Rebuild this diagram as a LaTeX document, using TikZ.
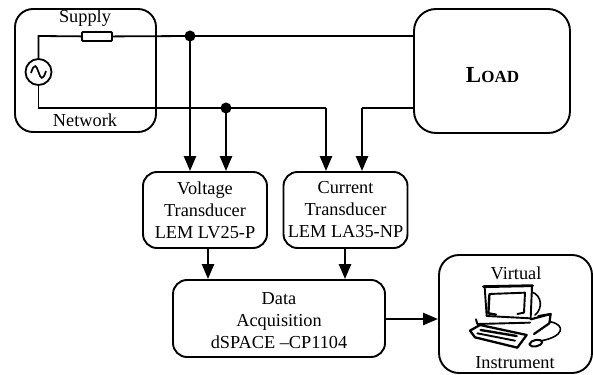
\documentclass[tikz,border=0pt]{standalone}
\usepackage{fontspec}
\setmainfont{Liberation Serif}
\usetikzlibrary{arrows.meta,positioning,calc}
\tikzset{
  roundbox/.style={draw=black, rounded corners=14pt, line width=1.9pt, align=center, inner sep=0pt,
    font=\fontsize{18.3}{22}\selectfont},
  lbltxt/.style={font=\fontsize{18.3}{22}\selectfont, inner sep=0pt, align=center},
  wire/.style={line width=1.8pt},
  feed/.style={-{Triangle[length=15pt,width=12pt]}, line width=2.5pt},
  joint/.style={circle, fill=black, inner sep=0pt, minimum size=11pt},
  iconline/.style={line width=1.6pt, line join=round, line cap=round},
}

\begin{document}
\begin{tikzpicture}[x=1pt, y=-1pt]
  \useasboundingbox (0,0) rectangle (593,374);

  \node[roundbox, minimum width=141pt, minimum height=123pt, rounded corners=18pt] (network) at (85.5,70.5) {};
  \node[roundbox, minimum width=156pt, minimum height=124pt, rounded corners=22pt] (load) at (492,71) {};

  \node[roundbox, minimum width=124pt, minimum height=76pt] (voltage) at (205,210) {Voltage\\Transducer\\LEM LV25-P};
  \node[roundbox, minimum width=124pt, minimum height=76pt] (current) at (345.5,210) {Current\\Transducer\\LEM LA35-NP};
  \node[roundbox, minimum width=212pt, minimum height=77pt] (daq) at (279,318.5) {};
  \node[roundbox, minimum width=153pt, minimum height=118pt, rounded corners=20pt] (virtual) at (515.5,314) {};

  \node[lbltxt] (loadtxt) at (492.5,75) {\fontsize{23}{26}\selectfont\textbf{L{\fontsize{17}{20}\selectfont OAD}}};
  \node[lbltxt] (daqtxt) at (279,320.5) {Data\\Acquisition\\dSPACE --CP1104};
  \node[lbltxt] (supply) at (85,18.5) {Supply};
  \node[lbltxt] (net) at (85,120) {Network};
  \node[lbltxt] (virt) at (516,273) {Virtual};
  \node[lbltxt] (instr) at (515,363) {Instrument};

  % source and series resistor
  \node[draw, circle, line width=1.8pt, minimum size=26pt, inner sep=0pt] (source) at (38.5,72) {};
  \node[draw, rounded corners=1pt, line width=1.8pt, minimum width=30pt, minimum height=9pt, inner sep=0pt] (res) at (97,36.5) {};
  \draw[line width=1.7pt] ($(source.center)+(-7.5,1)$) .. controls ($(source.center)+(-4,-10)$) and ($(source.center)+(-2,-6)$) .. (source.center)
    .. controls ($(source.center)+(2,6)$) and ($(source.center)+(4,10)$) .. ($(source.center)+(7.5,-1)$);

  \coordinate (top) at (38.5,36);
  \coordinate (bot) at (38.5,108);
  \coordinate (jv) at (190,36);
  \coordinate (jc) at (226,108);
  \coordinate (turnc) at (326,108);
  \coordinate (turnl) at (362,108);
  \coordinate (outv) at (208,248);
  \coordinate (outc) at (345,248);
  \coordinate (outd) at (385,319);

  \draw[wire] (source) -- (top) -- (res);
  \draw[wire] (res) -- (jv) -- (jv -| load.west);
  \draw[wire] (source) -- (bot) -- (jc) -- (turnc);
  \draw[wire] (load.west |- turnl) -- (turnl);

  \node[joint] at (jv) {};
  \node[joint] at (jc) {};

  \draw[feed] (jv) -- (jv |- voltage.north);
  \draw[feed] (jc) -- (jc |- voltage.north);
  \draw[feed] (turnc) -- (turnc |- current.north);
  \draw[feed] (turnl) -- (turnl |- current.north);
  \draw[feed] (outv) -- (outv |- daq.north);
  \draw[feed] (outc) -- (outc |- daq.north);
  \draw[feed] (outd) -- (outd -| virtual.west);

  % computer
  \begin{scope}[shift={(460pt,-280pt)}, x=0.3333pt, y=-0.3333pt, iconline]
    \draw (215,36) .. controls (245,45) and (250,85) .. (225,105);
    \draw[line width=2.2pt] (212,118) -- (272,102) -- (268,130) -- (222,162);
    \draw[line width=2pt] (235,108) -- (272,102);
    \draw (270,125) .. controls (320,135) and (310,170) .. (245,182);
    \draw[line width=2.8pt] (70,20) -- (218,17);
    \draw[line width=1.9pt] (74,22) -- (80,108) -- (212,115) -- (216,18);
    \draw[line width=2.4pt] (88,45) -- (85,100) -- (108,104);
    \draw[line width=1.9pt] (88,42) -- (195,38) -- (192,98) -- (172,102);
    \draw[line width=1.9pt] (48,118) -- (52,132) -- (210,128);
    \draw[line width=2.3pt] (30,152) -- (60,135) -- (200,165) -- (172,203) -- (45,172) -- cycle;
    \draw[line width=2.4pt] (62,150) -- (170,168);
    \draw[line width=1.9pt] (52,160) -- (165,182);
    \draw[line width=2pt] (208,193) .. controls (212,178) and (245,175) .. (247,186) .. controls (247,198) and (212,206) .. (208,193);
  \end{scope}
\end{tikzpicture}
\end{document}
